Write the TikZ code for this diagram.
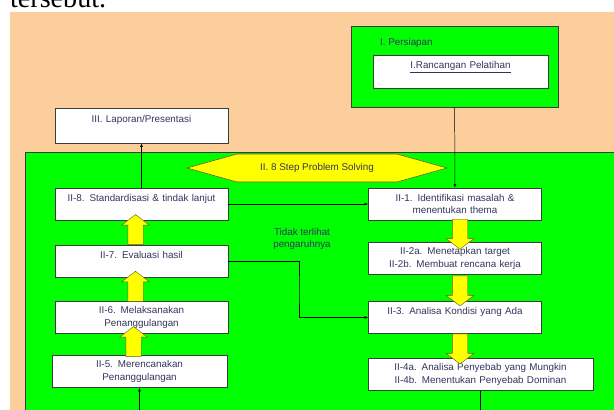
\documentclass[tikz,border=0pt]{standalone}
\usepackage{fontspec}
\setmainfont{Liberation Sans}
\newfontfamily\pageserif{Liberation Serif}
\usetikzlibrary{shapes.arrows,calc,arrows.meta}

\definecolor{peach}{HTML}{FBCE9C}
\definecolor{lime}{HTML}{00FF00}
\definecolor{banana}{HTML}{FFFF00}
\definecolor{edge}{HTML}{3C3C3C}
\definecolor{ink}{HTML}{34345F}

\tikzset{
  stepbox/.style={draw=edge, line width=1pt, fill=white, minimum width=8.65cm,
    minimum height=1.6cm, inner sep=0pt, text width=8.4cm, align=center,
    font=\fontsize{14}{18}\selectfont, text=ink},
  blockarrow/.style={single arrow, draw=olive!60!black, line width=0.6pt, fill=banana,
    minimum width=1.35cm, minimum height=1.5cm, single arrow head extend=0.3cm,
    single arrow tip angle=105, single arrow head indent=0pt, inner sep=0.375cm},
  flow/.style={draw=black, line width=0.7pt, -{Latex[length=5pt,width=4pt]}},
  note/.style={font=\fontsize{14}{18}\selectfont, text=ink}
}

\begin{document}
\begin{tikzpicture}[x=0.05cm, y=-0.05cm]
  \useasboundingbox (0,0) rectangle (614,409);
  \clip (0,0) rectangle (614,409);
  \fill[peach] (10,12) rectangle (640,430);
  \node[anchor=base west, inner sep=0pt, font=\pageserif\fontsize{40}{40}\selectfont] (caption) at (10,7) {tersebut.};

  % persiapan
  \node[draw=edge, line width=1pt, fill=lime, minimum width=10.35cm, minimum height=4.05cm] (prep) at (454.5,66.5) {};
  \node[note, anchor=west, inner sep=0pt] (preplabel) at (380,43) {I. Persiapan};
  \node[stepbox, minimum width=8.75cm, minimum height=1.65cm] (design) at (460.5,71.5) {\underline{I.Rancangan Pelatihan}\\\mbox{}};
  \node[stepbox, minimum height=1.75cm] (report) at (141.5,125.5) {III. Laporan/Presentasi\\\mbox{}};

  % problem solving
  \draw[draw=edge, line width=1pt, fill=lime] (25,152) rectangle (640,430);
  \draw[draw=olive!60!black, line width=0.8pt, fill=banana]
    (187,168) -- (237,154) -- (397,154) -- (447,168) -- (397,182) -- (237,182) -- cycle;
  \node[note] (title) at (317,168) {II. 8 Step Problem Solving};

  \node[stepbox] (s1) at (455,204) {II-1. Identifikasi masalah \&\\menentukan thema};
  \node[stepbox] (s2) at (455,258.5) {II-2a. Menetapkan target\\II-2b. Membuat rencana kerja};
  \node[stepbox] (s3) at (455,317.5) {II-3. Analisa Kondisi yang Ada\\\mbox{}};
  \node[stepbox, minimum width=11.25cm, text width=11cm] (s4) at (480.5,374.5) {II-4a. Analisa Penyebab yang Mungkin\\II-4b. Menentukan Penyebab Dominan};
  \node[stepbox, minimum width=8.75cm] (s5) at (139.5,371.5) {II-5. Merencanakan\\Penanggulangan};
  \node[stepbox] (s6) at (141.5,317.5) {II-6. Melaksanakan\\Penanggulangan};
  \node[stepbox] (s7) at (141.5,261) {II-7. Evaluasi hasil\\\mbox{}};
  \node[stepbox] (s8) at (141.5,204) {II-8. Standardisasi \& tindak lanjut\\\mbox{}};

  \node[note, align=center] (skip) at (302,239) {Tidak terlihat\\pengaruhnya};
  \coordinate (bend) at (299,290);

  \foreach \a/\b in {s1/s2,s2/s3,s3/s4}
    \node[blockarrow, shape border rotate=270, xshift=0.25cm] at ($(\a.south)!0.5!(\a.south|-\b.north)$) {};
  \foreach \a/\b in {s5/s6,s6/s7,s7/s8}
    \node[blockarrow, shape border rotate=90, xshift=-0.3cm] at ($(\a.north)!0.5!(\a.north|-\b.south)$) {};

  \draw[flow] (prep) -- (s1);
  \draw[flow] (s8) -- (report);
  \draw[flow] (s8) -- (s1);
  \draw[flow] (s7.east) -| (bend) |- (s3.west);
  \draw[flow] (s4.south) -- ++(0,40) -| (s5.south);
\end{tikzpicture}
\end{document}
